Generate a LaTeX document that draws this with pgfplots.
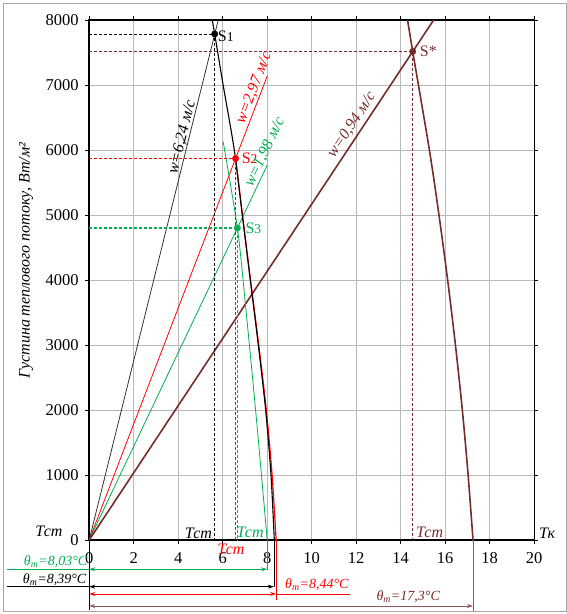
\documentclass[border=0pt]{standalone}
\usepackage{fontspec}
\setmainfont{Liberation Serif}
\usepackage{pgfplots}
\pgfplotsset{compat=1.18}
\usetikzlibrary{arrows.meta}
\definecolor{cgreen}{RGB}{0,176,80}
\definecolor{cbrown}{RGB}{118,44,44}
\definecolor{cred}{RGB}{255,0,0}
\newcommand{\fs}{\fontsize{16}{19}\selectfont}
\newcommand{\fst}{\fontsize{16.5}{19}\selectfont}
\newcommand{\fsb}{\fontsize{14}{16}\selectfont}
\begin{document}
\begin{tikzpicture}
\useasboundingbox (0,0) rectangle (567pt,614pt);
\draw[gray!70, line width=0.8pt] (3pt,3pt) rectangle (566pt,611pt);
\begin{axis}[
  at={(89.2pt,74pt)}, anchor=south west,
  scale only axis, width=445pt, height=520pt,
  xmin=0, xmax=20, ymin=0, ymax=8000,
  xtick={0,2,...,20}, ytick={0,1000,...,8000},
  grid=major, grid style={gray!55, line width=0.8pt},
  axis line style={line width=1.4pt},
  tick align=outside, major tick length=4pt,
  tick style={black, line width=0.8pt},
  tick label style={font=\fst},
  xticklabel style={yshift=-5pt},
  yticklabel style={xshift=-3pt},
  /pgf/number format/assume math mode=true,
  /pgf/number format/set thousands separator={},
  scaled y ticks=false,
  clip=false,
]
% rising lines
\addplot[black!80, line width=0.8pt] coordinates {(0,0) (5.80,8000)};
\addplot[cred, line width=0.8pt] coordinates {(0,0) (8.0,7137)};
\addplot[cgreen, line width=0.8pt] coordinates {(0,0) (8.0,5766)};
\addplot[cbrown, line width=1.6pt] coordinates {(0,0) (15.48,8000)};
% descending curves
\addplot[cred, line width=1.2pt, smooth, tension=0.5] coordinates {(6.58,5870) (6.89,5000) (7.25,4000) (7.62,3000) (7.96,2000) (8.22,1000) (8.40,0)};
\addplot[black, line width=1.1pt, smooth, tension=0.5] coordinates {(5.53,8000) (5.64,7785) (6.02,7000) (6.52,6000) (6.88,5000) (7.24,4000) (7.60,3000) (7.93,2000) (8.17,1000) (8.32,0)};
\addplot[cgreen, line width=0.8pt, smooth, tension=0.5] coordinates {(6.02,6130) (6.66,4800) (7.0,3700) (7.5,1920) (8.0,0)};
\addplot[cbrown, line width=1.6pt, smooth, tension=0.5] coordinates {(14.31,8000) (14.54,7515) (15.29,6000) (15.72,5000) (16.11,4000) (16.46,3000) (16.77,2000) (17.03,1000) (17.25,0)};
% dashed projections
\addplot[black, line width=0.7pt, dash pattern=on 3pt off 2pt] coordinates {(0,7785) (5.64,7785) (5.64,0)};
\addplot[cred, line width=0.8pt, dash pattern=on 3pt off 2pt] coordinates {(0,5870) (6.58,5870) (6.58,0)};
\addplot[cgreen, line width=1.1pt, dash pattern=on 3pt off 2pt] coordinates {(0,4800) (6.66,4800) (6.66,0)};
\addplot[cbrown, line width=0.7pt, dash pattern=on 3pt off 2pt] coordinates {(0,7515) (14.54,7515) (14.54,0)};
% points
\addplot[only marks, mark=*, mark size=3.2pt, black] coordinates {(5.64,7785)};
\addplot[only marks, mark=*, mark size=3.2pt, cred] coordinates {(6.58,5870)};
\addplot[only marks, mark=*, mark size=3.2pt, cgreen] coordinates {(6.66,4800)};
\addplot[only marks, mark=*, mark size=3.2pt, cbrown] coordinates {(14.54,7515)};
% point labels
\node[anchor=west, inner sep=0pt, font=\fs, black] at ([xshift=3pt,yshift=-2pt]axis cs:5.64,7785) {S{\fontsize{13.5}{13}\selectfont 1}};
\node[anchor=west, inner sep=0pt, font=\fs, cred] at ([xshift=6pt]axis cs:6.58,5870) {S{\fontsize{13.5}{13}\selectfont 2}};
\node[anchor=west, inner sep=0pt, font=\fs, cgreen] at ([xshift=8pt]axis cs:6.66,4800) {S{\fontsize{13.5}{13}\selectfont 3}};
\node[anchor=west, inner sep=0pt, font=\fs, cbrown] at ([xshift=7pt]axis cs:14.54,7515) {S*};
% velocity labels
\node[rotate=76.05, font=\fs\itshape, black] at (axis cs:4.18,6200) {w=6,24 м/с};
\node[rotate=69.0, font=\fs\itshape, cred] at (axis cs:7.41,6954) {w=2,97 м/с};
\node[rotate=64.6, font=\fs\itshape, cgreen] at (axis cs:7.90,5969) {w=1,98 м/с};
\node[rotate=56.5, font=\fs\itshape, cbrown] at (axis cs:11.80,6385) {w=0,94 м/с};
% T labels
\node[font=\fs\itshape, black] at (axis cs:-1.81,138) {Тст};
\node[font=\fs\itshape, black] at (axis cs:4.91,108) {Тст};
\node[font=\fs\itshape, cred] at (axis cs:6.37,-140) {Тст};
\node[font=\fs\itshape, cgreen] at (axis cs:7.23,125) {Тст};
\node[font=\fs\itshape, cbrown] at (axis cs:15.3,120) {Тст};
\node[font=\fs\itshape, black] at (axis cs:20.58,108) {Тк};
% y label
\node[rotate=90, font=\fs\itshape, black] at (axis cs:-2.84,4300) {Густина теплового потоку, Вт/м²};
% bottom dimension annotations
\draw[black, line width=0.6pt] (axis cs:0,0) -- (axis cs:0,-1080);
\draw[cgreen, line width=0.7pt] (axis cs:-3.7,-450) -- (axis cs:0,-450);
\draw[cgreen, line width=0.7pt, {Stealth[length=6pt,width=4pt]}-{Stealth[length=6pt,width=4pt]}] (axis cs:0,-450) -- (axis cs:8.0,-450);
\draw[cgreen, line width=0.7pt] (axis cs:8.0,0) -- (axis cs:8.0,-460);
\node[anchor=east, inner sep=0pt, font=\fsb\itshape, cgreen] at (axis cs:-0.08,-338) {θ\textsubscript{т}=8,03°C};
\draw[black, line width=0.7pt] (axis cs:-3.7,-718) -- (axis cs:0,-718);
\draw[black, line width=0.7pt, {Stealth[length=6pt,width=4pt]}-{Stealth[length=6pt,width=4pt]}] (axis cs:0,-718) -- (axis cs:8.3,-718);
\draw[black, line width=0.7pt] (axis cs:8.3,0) -- (axis cs:8.3,-718);
\node[anchor=east, inner sep=0pt, font=\fsb\itshape, black] at (axis cs:-0.12,-615) {θ\textsubscript{т}=8,39°C};
\draw[cred, line width=0.7pt, {Stealth[length=6pt,width=4pt]}-{Stealth[length=6pt,width=4pt]}] (axis cs:0,-830) -- (axis cs:8.40,-830);
\draw[cred, line width=0.7pt] (axis cs:8.40,0) -- (axis cs:8.40,-923);
\draw[cred, line width=0.7pt] (axis cs:8.40,-830) -- (axis cs:11.73,-830);
\node[anchor=west, inner sep=0pt, font=\fsb\itshape, cred] at (axis cs:8.8,-692) {θ\textsubscript{т}=8,44°C};
\draw[cbrown!80, line width=0.7pt, {Stealth[length=6pt,width=4pt]}-{Stealth[length=6pt,width=4pt]}] (axis cs:0,-1015) -- (axis cs:17.25,-1015);
\draw[cbrown!80, line width=0.7pt] (axis cs:17.25,0) -- (axis cs:17.25,-1092);
\node[anchor=east, inner sep=0pt, font=\fsb\itshape, cbrown] at (axis cs:15.77,-877) {θ\textsubscript{т}=17,3°C};
\end{axis}
\end{tikzpicture}
\end{document}
